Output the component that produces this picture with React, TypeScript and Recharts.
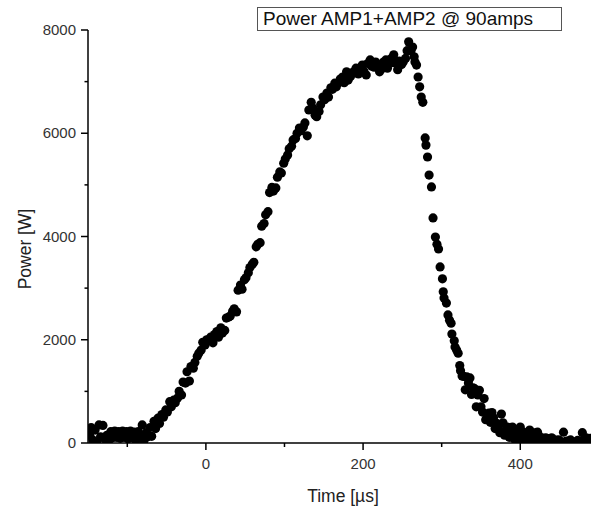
import React from 'react';
import { ScatterChart, Scatter, XAxis, YAxis, Legend } from 'recharts';

const seriesName = 'Power AMP1+AMP2 @ 90amps';
const xTitle = 'Time [\u00b5s]';
const yTitle = 'Power [W]';
const xTicks = [-100, 0, 100, 200, 300, 400];
const yTicks = [0, 1000, 2000, 3000, 4000, 5000, 6000, 7000, 8000];

// [time µs, power W]
const baseline: [number, number][] = [
  [-148, 150], [-146, 300], [-144, 60], [-141, 250], [-139, 20], [-136, 350], [-134, 120],
  [-131, 340], [-129, 80], [-126, 150], [-124, 30], [-121, 220], [-119, 100], [-116, 230],
  [-114, 110], [-111, 220], [-109, 90], [-106, 230], [-104, 110], [-101, 220], [-99, 80],
  [-96, 230], [-94, 100], [-91, 210], [-89, 50], [-86, 220], [-84, 120], [-81, 350],
  [-79, 40], [-76, 200], [-74, 120], [-71, 300], [-69, 130],
];

const rise: [number, number][] = [
  [-66, 420], [-64, 280], [-61, 480], [-59, 380], [-56, 550], [-54, 500], [-51, 640],
  [-49, 600], [-46, 800], [-44, 700], [-41, 830], [-39, 780], [-36, 870], [-34, 1000],
  [-31, 930], [-29, 1180], [-26, 1160], [-24, 1380], [-21, 1200], [-19, 1480], [-16, 1450],
  [-14, 1560], [-11, 1680], [-9, 1740], [-6, 1800], [-4, 1950], [-1, 1900], [1, 2000],
  [4, 1990], [6, 2050], [9, 1940], [11, 2100], [14, 2160], [16, 2050], [19, 2230],
  [21, 2130], [24, 2180], [26, 2420], [29, 2440], [31, 2460], [34, 2550], [36, 2600],
  [39, 2540], [41, 2960], [44, 3060], [46, 2980], [49, 3160], [51, 3200], [54, 3300],
  [56, 3400], [59, 3460], [61, 3500], [64, 3800], [66, 3850], [69, 3880], [71, 4200],
  [74, 4250], [76, 4420], [79, 4480], [81, 4850], [84, 4950], [86, 4880], [89, 4940],
  [91, 5150], [94, 5250], [96, 5230], [99, 5420], [101, 5500], [104, 5580], [106, 5700],
  [109, 5750], [111, 5870], [114, 5900], [116, 6000], [119, 6100], [121, 6050], [124, 6120],
  [126, 6200], [129, 5950], [131, 6450], [134, 6600], [136, 6490], [139, 6350], [141, 6320],
  [144, 6420], [146, 6550], [149, 6700], [151, 6650],
];

const plateau: [number, number][] = [
  [154, 6780], [156, 6700], [159, 6880], [161, 6850], [164, 6970], [166, 6900], [169, 6980],
  [171, 7050], [174, 7090], [176, 6980], [179, 7190], [181, 7030], [184, 7100], [186, 7170],
  [189, 7200], [191, 7260], [194, 7150], [196, 7240], [199, 7320], [201, 7200], [204, 7130],
  [206, 7350], [209, 7420], [211, 7300], [214, 7280], [216, 7380], [219, 7320], [221, 7190],
  [224, 7250], [226, 7380], [229, 7420], [231, 7260], [234, 7350], [236, 7450], [239, 7520],
  [241, 7360], [244, 7230], [246, 7400], [249, 7330], [251, 7380], [254, 7450], [256, 7600],
  [258, 7770], [261, 7600], [263, 7670], [265, 7480], [266, 7380], [268, 7320],
];

const fall: [number, number][] = [
  [270, 7090], [272, 6900], [274, 6700], [276, 6600], [279, 5910], [280, 5770], [282, 5540],
  [284, 5190], [287, 4960], [289, 4360], [292, 3990], [294, 3850], [296, 3760], [298, 3410],
  [301, 3180], [302, 2930], [303, 2810], [306, 2710], [308, 2480], [310, 2380], [312, 2320],
  [313, 2110], [316, 1980], [317, 1860], [319, 1800], [321, 1740], [323, 1500], [324, 1400],
  [326, 1300], [328, 1290], [330, 1030], [332, 1280], [334, 1160], [336, 1260], [338, 940],
  [340, 1070], [342, 1050], [344, 700], [346, 930], [348, 1020], [350, 700], [352, 600],
  [354, 860], [356, 450], [358, 450], [360, 580], [362, 400], [364, 590], [366, 490],
];

const tail: [number, number][] = [
  [368, 280], [370, 380], [372, 320], [374, 200], [376, 560], [378, 390], [380, 150],
  [382, 260], [384, 310], [386, 110], [388, 210], [390, 310], [392, 80], [394, 190],
  [396, 200], [398, 60], [400, 310], [402, 130], [404, 210], [406, 40], [408, 160],
  [410, 100], [412, 250], [414, 30], [416, 120], [418, 60], [420, 200], [422, 210],
  [424, 50], [426, 110], [428, 20], [430, 60], [432, 100], [434, 90], [436, 10],
  [438, 60], [440, 100], [442, 70], [444, 20], [446, 30], [448, 60], [450, 50],
  [452, 10], [455, 210], [458, 30], [461, 40], [464, 60], [467, 20], [470, 10],
  [473, 50], [476, 30], [479, 200], [481, 60], [484, 100], [487, 40], [489, 90],
];

const data = [...baseline, ...rise, ...plateau, ...fall, ...tail].map(([t, p]) => ({ t, p }));

const FONT = '"Liberation Sans", Arial, Helvetica, sans-serif';

const YTick = (props: any) => {
  const { x, y, payload } = props;
  const major = payload.value % 2000 === 0;
  return (
    <g>
      <line x1={x - (major ? 7 : 3.5)} x2={x} y1={y} y2={y} stroke="#000" strokeWidth={1.5} />
      {major && (
        <text x={x - 12} y={y} dy={5} textAnchor="end" fontSize={15} fill="#333" fontFamily={FONT}>
          {payload.value}
        </text>
      )}
    </g>
  );
};

const XTick = (props: any) => {
  const { x, y, payload } = props;
  const major = payload.value % 200 === 0;
  return (
    <g>
      <line x1={x} x2={x} y1={y} y2={y + (major ? 7 : 4)} stroke="#000" strokeWidth={1.5} />
      {major && (
        <text x={x} y={y} dy={26} textAnchor="middle" fontSize={15} fill="#333" fontFamily={FONT}>
          {payload.value}
        </text>
      )}
    </g>
  );
};

const Dot = (props: any) => <circle cx={props.cx} cy={props.cy} r={4.6} fill="#000" />;

const LegendBox = () => (
  <div
    style={{
      width: 303,
      height: 22,
      border: '1px solid #555',
      boxSizing: 'content-box',
      fontFamily: FONT,
      fontSize: 19,
      lineHeight: '22px',
      color: '#111',
      paddingLeft: 0,
      whiteSpace: 'nowrap',
      background: '#fff',
    }}
  >
    <span style={{ marginLeft: 5 }}>{seriesName}</span>
  </div>
);

export default function App() {
  return (
    <div style={{ position: 'absolute', left: 0, top: 0, width: 592, height: 506, background: '#fff' }}>
      <ScatterChart width={592} height={506} margin={{ top: 30, right: 1, bottom: 33, left: 0 }}>
        <XAxis
          type="number"
          dataKey="t"
          domain={[-150, 490]}
          ticks={xTicks}
          allowDataOverflow
          height={30}
          tickSize={0}
          tickMargin={0}
          tickLine={false}
          tick={<XTick />}
          axisLine={{ stroke: '#000', strokeWidth: 1.5 }}
          label={{
            content: () => (
              <text x={343} y={502} textAnchor="middle" fontSize={17.5} fill="#222" fontFamily={FONT}>
                {xTitle}
              </text>
            ),
          }}
        />
        <YAxis
          type="number"
          dataKey="p"
          domain={[0, 8000]}
          ticks={yTicks}
          allowDataOverflow
          width={88}
          tickSize={0}
          tickMargin={0}
          tickLine={false}
          tick={<YTick />}
          axisLine={{ stroke: '#000', strokeWidth: 1.5 }}
          label={{
            content: () => (
              <text
                transform="translate(31,249) rotate(-90)"
                textAnchor="middle"
                fontSize={17.5}
                fill="#222"
                fontFamily={FONT}
              >
                {yTitle}
              </text>
            ),
          }}
        />
        <Legend
          layout="horizontal"
          verticalAlign="middle"
          align="center"
          content={<LegendBox />}
          wrapperStyle={{ position: 'absolute', left: 257, top: 7, width: 305, height: 24 }}
        />
        <Scatter name={seriesName} data={data} fill="#000" shape={<Dot />} isAnimationActive={false} />
      </ScatterChart>
    </div>
  );
}
